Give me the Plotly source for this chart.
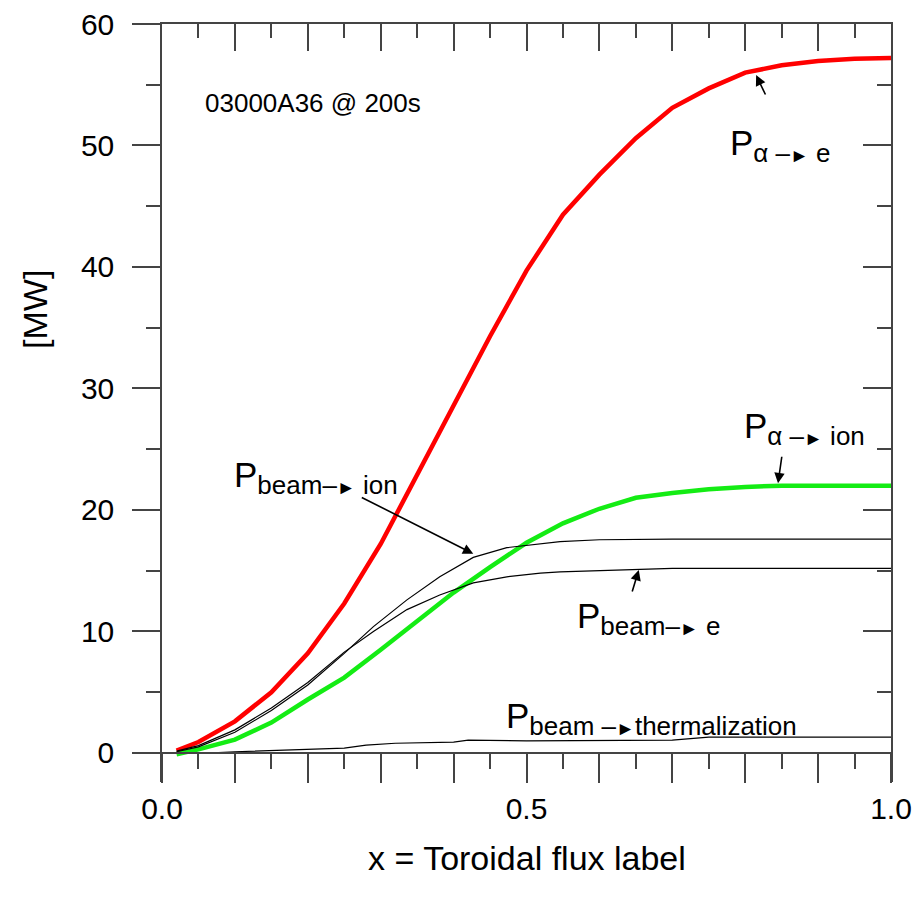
import plotly.graph_objects as go

# Radial coordinate: toroidal flux label
x_alpha_e = [0.02, 0.05, 0.10, 0.15, 0.20, 0.25, 0.30, 0.35, 0.40, 0.45, 0.50,
             0.55, 0.60, 0.65, 0.70, 0.75, 0.80, 0.85, 0.90, 0.95, 1.00]
p_alpha_e = [0.2, 0.9, 2.6, 5.0, 8.2, 12.3, 17.2, 22.9, 28.6, 34.3, 39.7,
             44.3, 47.6, 50.6, 53.1, 54.7, 56.0, 56.6, 56.95, 57.15, 57.2]

x_alpha_ion = [0.02, 0.05, 0.10, 0.15, 0.20, 0.25, 0.30, 0.35, 0.40, 0.45, 0.50,
               0.55, 0.60, 0.65, 0.70, 0.75, 0.80, 0.85, 0.90, 0.95, 1.00]
p_alpha_ion = [-0.1, 0.3, 1.1, 2.5, 4.4, 6.2, 8.5, 10.9, 13.2, 15.3, 17.3,
               18.9, 20.1, 21.0, 21.4, 21.7, 21.9, 22.0, 22.0, 22.0, 22.0]

x_beam = [0.02, 0.05, 0.10, 0.15, 0.20, 0.25, 0.29, 0.336, 0.381, 0.427, 0.473,
          0.519, 0.546, 0.60, 0.65, 0.70, 0.75, 0.80, 0.85, 0.90, 0.95, 1.00]
p_beam_ion = [0.1, 0.5, 1.7, 3.5, 5.6, 8.2, 10.4, 12.6, 14.5, 16.1, 16.9,
              17.2, 17.4, 17.55, 17.6, 17.6, 17.6, 17.6, 17.6, 17.6, 17.6, 17.6]
p_beam_e = [0.15, 0.6, 1.9, 3.7, 5.8, 8.3, 10.0, 11.8, 13.0, 14.0, 14.5,
            14.8, 14.9, 15.0, 15.1, 15.2, 15.2, 15.2, 15.2, 15.2, 15.2, 15.2]

x_therm = [0.02, 0.07, 0.10, 0.15, 0.20, 0.25, 0.28, 0.32, 0.40, 0.42, 0.50,
           0.60, 0.70, 0.75, 0.80, 0.90, 1.00]
p_beam_therm = [0.0, 0.0, 0.1, 0.2, 0.3, 0.4, 0.65, 0.8, 0.9, 1.05, 1.0,
                1.0, 1.05, 1.3, 1.3, 1.3, 1.3]

x_tick_vals = [0.0, 0.1, 0.2, 0.3, 0.4, 0.5, 0.6, 0.7, 0.8, 0.9, 1.0]
x_tick_text = ["0.0", "", "", "", "", "0.5", "", "", "", "", "1.0"]
y_tick_vals = [0, 10, 20, 30, 40, 50, 60]
y_tick_text = ["0", "10", "20", "30", "40", "50", "60"]
y_minor_vals = [5, 15, 25, 35, 45, 55]

FONT = "Liberation Sans, Arial, sans-serif"
AXIS_COLOR = "#444444"
Y_MIN, Y_MAX = -2.39, 60

fig = go.Figure()
fig.add_trace(go.Scatter(x=x_alpha_e, y=p_alpha_e, mode="lines",
                         line=dict(color="#ff0000", width=4.5), hoverinfo="skip"))
fig.add_trace(go.Scatter(x=x_alpha_ion, y=p_alpha_ion, mode="lines",
                         line=dict(color="#14ec14", width=4.5), hoverinfo="skip"))
fig.add_trace(go.Scatter(x=x_beam, y=p_beam_ion, mode="lines",
                         line=dict(color="black", width=1.2), hoverinfo="skip"))
fig.add_trace(go.Scatter(x=x_beam, y=p_beam_e, mode="lines",
                         line=dict(color="black", width=1.2), hoverinfo="skip"))
fig.add_trace(go.Scatter(x=x_therm, y=p_beam_therm, mode="lines",
                         line=dict(color="black", width=1.2), hoverinfo="skip",
                         xaxis="x2", yaxis="y2"))

tick_font = dict(family=FONT, size=30, color="black")
common = dict(showgrid=False, zeroline=False, automargin=False,
              showline=True, linecolor=AXIS_COLOR, linewidth=1.5,
              tickwidth=1.5, tickcolor=AXIS_COLOR)

fig.update_layout(
    template="none",
    width=922, height=903,
    margin=dict(l=162, r=31, t=24, b=121, autoexpand=False),
    paper_bgcolor="white", plot_bgcolor="white",
    showlegend=False,
    font=dict(family=FONT, color="black"),
    xaxis=dict(
        range=[0, 1], anchor="free", position=(0 - Y_MIN) / (Y_MAX - Y_MIN),
        ticks="outside", ticklen=29,
        tickvals=x_tick_vals, ticktext=x_tick_text, tickfont=tick_font,
        minor=dict(dtick=0.05, ticks="outside", ticklen=15, tickwidth=1.5,
                   tickcolor=AXIS_COLOR, showgrid=False),
        **common,
    ),
    xaxis2=dict(
        range=[0, 1], overlaying="x", side="top", anchor="y2",
        showticklabels=False, ticks="inside", ticklen=27,
        tickvals=x_tick_vals,
        minor=dict(dtick=0.05, ticks="inside", ticklen=14, tickwidth=1.5,
                   tickcolor=AXIS_COLOR, showgrid=False),
        **common,
    ),
    yaxis=dict(
        range=[Y_MIN, Y_MAX],
        ticks="outside", ticklen=28,
        tickvals=y_tick_vals, ticktext=y_tick_text, tickfont=tick_font,
        ticklabelstandoff=12,
        minor=dict(tickvals=y_minor_vals, ticks="outside", ticklen=14,
                   tickwidth=1.5, tickcolor=AXIS_COLOR, showgrid=False),
        **common,
    ),
    yaxis2=dict(
        range=[Y_MIN, Y_MAX], overlaying="y", side="right", anchor="x2",
        showticklabels=False, ticks="inside", ticklen=28,
        tickvals=y_tick_vals,
        minor=dict(tickvals=y_minor_vals, ticks="inside", ticklen=14,
                   tickwidth=1.5, tickcolor=AXIS_COLOR, showgrid=False),
        **common,
    ),
)

# Axis titles
fig.add_annotation(text="x = Toroidal flux label", xref="paper", yref="paper",
                   x=0.5, y=-0.100, xanchor="center", yanchor="middle",
                   showarrow=False, font=dict(family=FONT, size=34))
fig.add_annotation(text="[MW]", xref="paper", yref="paper", textangle=-90,
                   x=-0.174, y=0.623, xanchor="center", yanchor="middle",
                   showarrow=False, font=dict(family=FONT, size=34))

# Case label
fig.add_annotation(text="03000A36 @ 200s", x=0.056, y=53.5, xanchor="left",
                   yanchor="middle", showarrow=False,
                   font=dict(family=FONT, size=26))

# Curve labels: P with a subscript; the subscript arrow is a dash with a filled head
SUB = "<sub><span style='font-size:26px'>{}</span></sub>"
ARROW = "\u2013<span style='font-size:19px'>\u25ba</span>"
labels = [
    ("P" + SUB.format("\u03b1 " + ARROW + " e"), 0.776, 50.0),
    ("P" + SUB.format("beam" + ARROW + " ion"), 0.096, 22.7),
    ("P" + SUB.format("\u03b1 " + ARROW + " ion"), 0.796, 26.7),
    ("P" + SUB.format("beam" + ARROW + " e"), 0.567, 11.1),
    ("P" + SUB.format("beam " + ARROW + "thermalization"), 0.469, 2.8),
]
for txt, lx, ly in labels:
    fig.add_annotation(text=txt, x=lx, y=ly, xanchor="left", yanchor="middle",
                       showarrow=False, font=dict(family=FONT, size=35))

# Pointer arrows from labels to curves
arrows = [
    (0.815, 55.8, 10, 21),
    (0.427, 16.4, -113, -57),
    (0.845, 22.2, 4, -28),
    (0.654, 15.06, -7, 23),
]
for hx, hy, ax, ay in arrows:
    fig.add_annotation(text="", x=hx, y=hy, ax=ax, ay=ay, showarrow=True,
                       arrowhead=2, arrowsize=1.3, arrowwidth=1.6,
                       arrowcolor="black")

fig.write_html("out.html")
